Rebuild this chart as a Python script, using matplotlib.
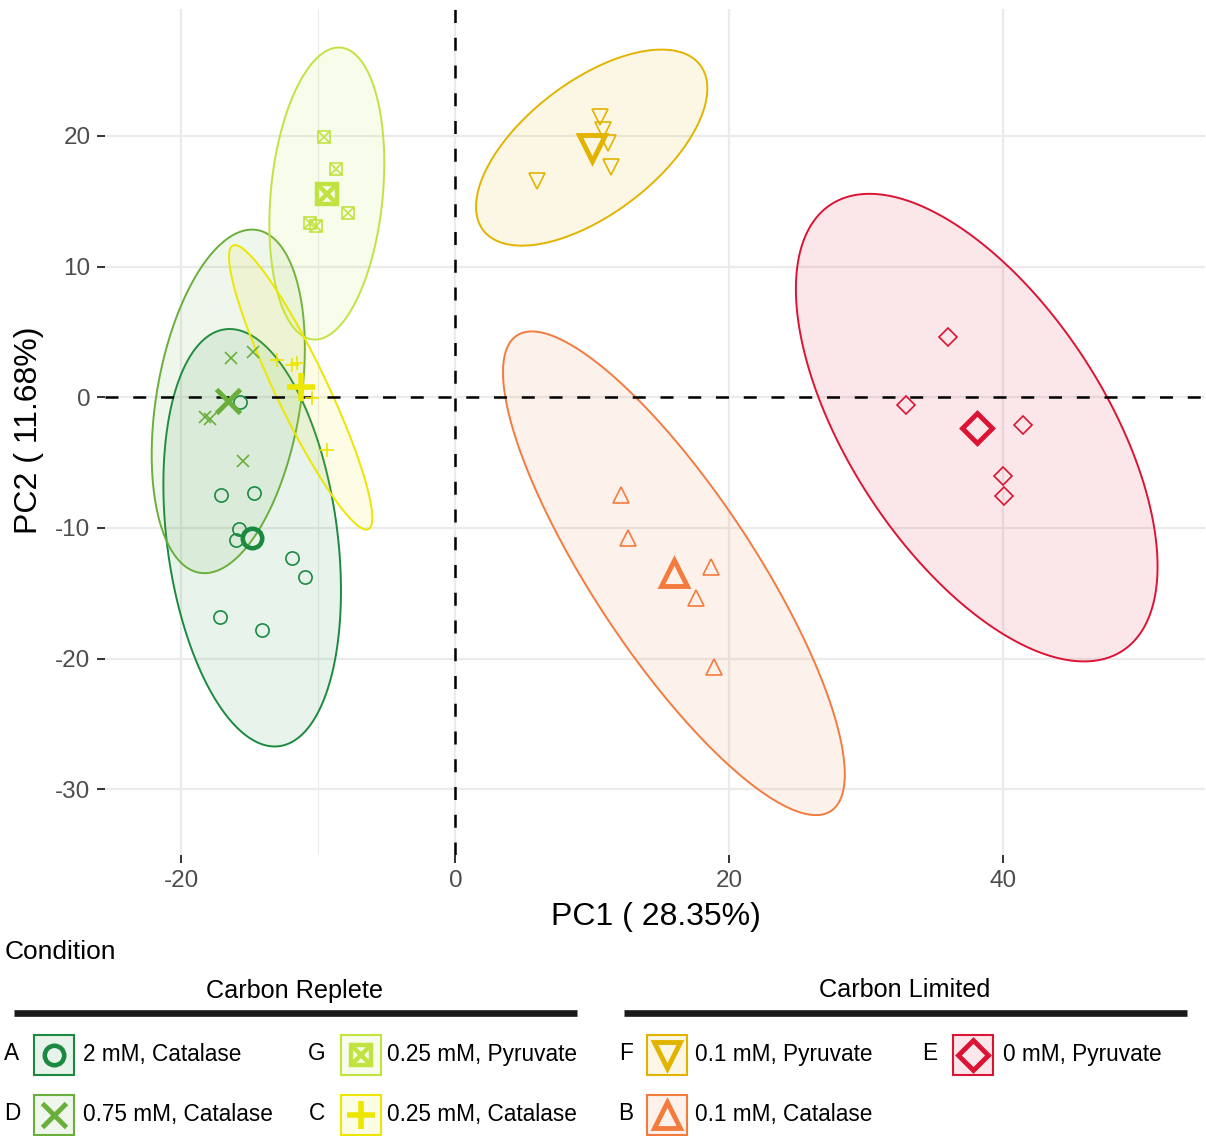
import numpy as np
import matplotlib
matplotlib.use("Agg")
import matplotlib.pyplot as plt
from matplotlib.patches import Polygon, Rectangle
from matplotlib.colors import to_rgba

plt.rcParams['font.family'] = ['Liberation Sans', 'DejaVu Sans']
plt.rcParams['axes.unicode_minus'] = False

# ---------------- data (PC scores) ----------------
A_x = [-15.72, -17.11, -14.69, -15.77, -16.01, -11.92, -10.95, -17.15, -14.13]
A_y = [-0.34, -7.48, -7.30, -10.08, -10.92, -12.27, -13.73, -16.79, -17.80]
D_x = [-16.37, -14.79, -18.27, -17.91, -15.52]
D_y = [3.03, 3.49, -1.53, -1.68, -4.87]
G_x = [-9.58, -8.73, -7.81, -10.61, -10.17]
G_y = [19.94, 17.47, 14.12, 13.31, 13.11]
C_x = [-13.05, -11.94, -11.59, -10.48, -9.39]
C_y = [2.82, 2.47, 2.59, -0.05, -4.03]
F_x = [10.56, 10.76, 11.17, 11.34, 5.94]
F_y = [21.47, 20.45, 19.43, 17.60, 16.57]
B_x = [12.09, 12.58, 18.64, 17.55, 18.91]
B_y = [-7.48, -10.79, -13.01, -15.38, -20.66]
E_x = [35.96, 32.88, 41.42, 39.98, 40.05]
E_y = [4.64, -0.59, -2.12, -6.00, -7.53]

groups = ['A', 'D', 'G', 'C', 'F', 'B', 'E']
group_labels = {'A': '2 mM, Catalase', 'D': '0.75 mM, Catalase',
                'G': '0.25 mM, Pyruvate', 'C': '0.25 mM, Catalase',
                'F': '0.1 mM, Pyruvate', 'B': '0.1 mM, Catalase',
                'E': '0 mM, Pyruvate'}
data = {'A': (A_x, A_y), 'D': (D_x, D_y), 'G': (G_x, G_y), 'C': (C_x, C_y),
        'F': (F_x, F_y), 'B': (B_x, B_y), 'E': (E_x, E_y)}
x_ticks = [-20, 0, 20, 40]
y_ticks = [-30, -20, -10, 0, 10, 20]
xlabel = 'PC1 ( 28.35%)'
ylabel = 'PC2 ( 11.68%)'

# ---------------- styles ----------------
colors = {'A': '#1b8a40', 'D': '#6aaf3c', 'G': '#c1e342', 'C': '#ece600',
          'F': '#e2b400', 'B': '#f47b3e', 'E': '#dc1434'}
markers = {'A': ['o'], 'D': ['x'], 'G': ['s', 'x'], 'C': ['+'],
           'F': ['v'], 'B': ['^'], 'E': ['D']}
small_ms = {'A': 9.5, 'D': 9, 'G': 8.5, 'C': 10, 'F': 11, 'B': 11, 'E': 9.5}
big_ms = {'A': 14, 'D': 17, 'G': 14.5, 'C': 20, 'F': 18.5, 'B': 18.5, 'E': 15}
big_mew = {'A': 3.3, 'D': 3.5, 'G': 3.2, 'C': 4.0, 'F': 3.5, 'B': 3.5, 'E': 3.5}

W, H = 1206, 1136
fig = plt.figure(figsize=(W / 100, H / 100), dpi=100)

# main panel (pixel layout)
pl, pr, pt, pb = 105, 1205, 9, 855
ax = fig.add_axes([pl / W, 1 - pb / H, (pr - pl) / W, (pb - pt) / H])
ax.set_xlim(-25.57, 54.72)
ax.set_ylim(-35.02, 29.71)
for s in ax.spines.values():
    s.set_visible(False)
ax.set_axisbelow(True)
ax.set_xticks(x_ticks)
ax.set_xticklabels([str(v) for v in x_ticks])
ax.set_yticks(y_ticks)
ax.set_yticklabels([str(v) for v in y_ticks])
ax.set_xticks([-10], minor=True)
ax.grid(True, which='major', color='#EBEBEB', lw=1.6)
ax.grid(True, which='minor', axis='x', color='#EBEBEB', lw=0.8)
ax.tick_params(which='major', length=5.5, width=1.4, color='#333333',
               labelsize=17.5, labelcolor='#4D4D4D', pad=5)
ax.tick_params(which='minor', length=0)


def ellipse(x, y, level=0.95, seg=240):
    x = np.asarray(x); y = np.asarray(y)
    n = len(x)
    m = n - 1
    fq = (m / 2.0) * ((1 - level) ** (-2.0 / m) - 1)
    r = np.sqrt(2 * fq)
    L = np.linalg.cholesky(np.cov(x, y))
    t = np.linspace(0, 2 * np.pi, seg)
    pts = (L @ np.vstack([np.cos(t), np.sin(t)])) * r
    return np.column_stack([x.mean() + pts[0], y.mean() + pts[1]])


for g in groups:
    x, y = data[g]
    poly = Polygon(ellipse(x, y), closed=True, facecolor=to_rgba(colors[g], 0.1),
                   edgecolor=colors[g], lw=1.4, zorder=2)
    ax.add_patch(poly)

ax.axhline(0, color='black', lw=1.8, ls=(0, (5.2, 5.9)), zorder=3)
ax.axvline(0, color='black', lw=1.8, ls=(0, (5.2, 5.9)), zorder=3)

for g in groups:
    x, y = data[g]
    for mk in markers[g]:
        ax.plot(x, y, ls='none', marker=mk, ms=small_ms[g], mew=1.2,
                mfc='none', mec=colors[g], zorder=4)
    mx, my = np.mean(x), np.mean(y)
    for mk in markers[g]:
        ax.plot([mx], [my], ls='none', marker=mk, ms=big_ms[g], mew=big_mew[g],
                mfc='none', mec=colors[g], zorder=5)

fig.text(656 / W, 1 - 925 / H, xlabel, ha='center', va='baseline', fontsize=23)
fig.text(29 / W, 1 - 430 / H, ylabel, ha='center', va='center', rotation=90,
         fontsize=23, rotation_mode='anchor')

# ---------------- legend (pixel layout) ----------------
lax = fig.add_axes([0, 0, 1, 1])
lax.set_xlim(0, W)
lax.set_ylim(H, 0)
lax.axis('off')
lax.patch.set_alpha(0)

lax.text(5, 959, 'Condition', fontsize=19, ha='left', va='baseline')
lax.text(295, 998, 'Carbon Replete', fontsize=18.2, ha='center', va='baseline')
lax.text(905, 997, 'Carbon Limited', fontsize=18.2, ha='center', va='baseline')
lax.plot([14, 577], [1013, 1013], color='#1a1a1a', lw=4.8, solid_capstyle='butt')
lax.plot([624, 1187], [1013, 1013], color='#1a1a1a', lw=4.8, solid_capstyle='butt')

legend_layout = {'A': (12, 54, 83, 1054.5), 'D': (12, 54, 83, 1114.5),
                 'G': (317, 360.5, 387, 1054.5), 'C': (317, 360.5, 387, 1114.5),
                 'F': (626, 667, 695, 1054.5), 'B': (626, 667, 695, 1114.5),
                 'E': (929.5, 973, 1003, 1054.5)}
for g in groups:
    lx, kx, tx, cy = legend_layout[g]
    lax.text(lx, cy + 6, g, fontsize=16.3, ha='center', va='baseline')
    lax.add_patch(Rectangle((kx - 20, cy - 20), 40, 40,
                            facecolor=to_rgba(colors[g], 0.1),
                            edgecolor=colors[g], lw=1.5))
    for mk in markers[g]:
        lax.plot([kx], [cy], ls='none', marker=mk, ms=big_ms[g], mew=big_mew[g],
                 mfc='none', mec=colors[g])
    lax.text(tx, cy + 6, group_labels[g], fontsize=16.3, ha='left', va='baseline')

fig.savefig('out.png', dpi=100)
